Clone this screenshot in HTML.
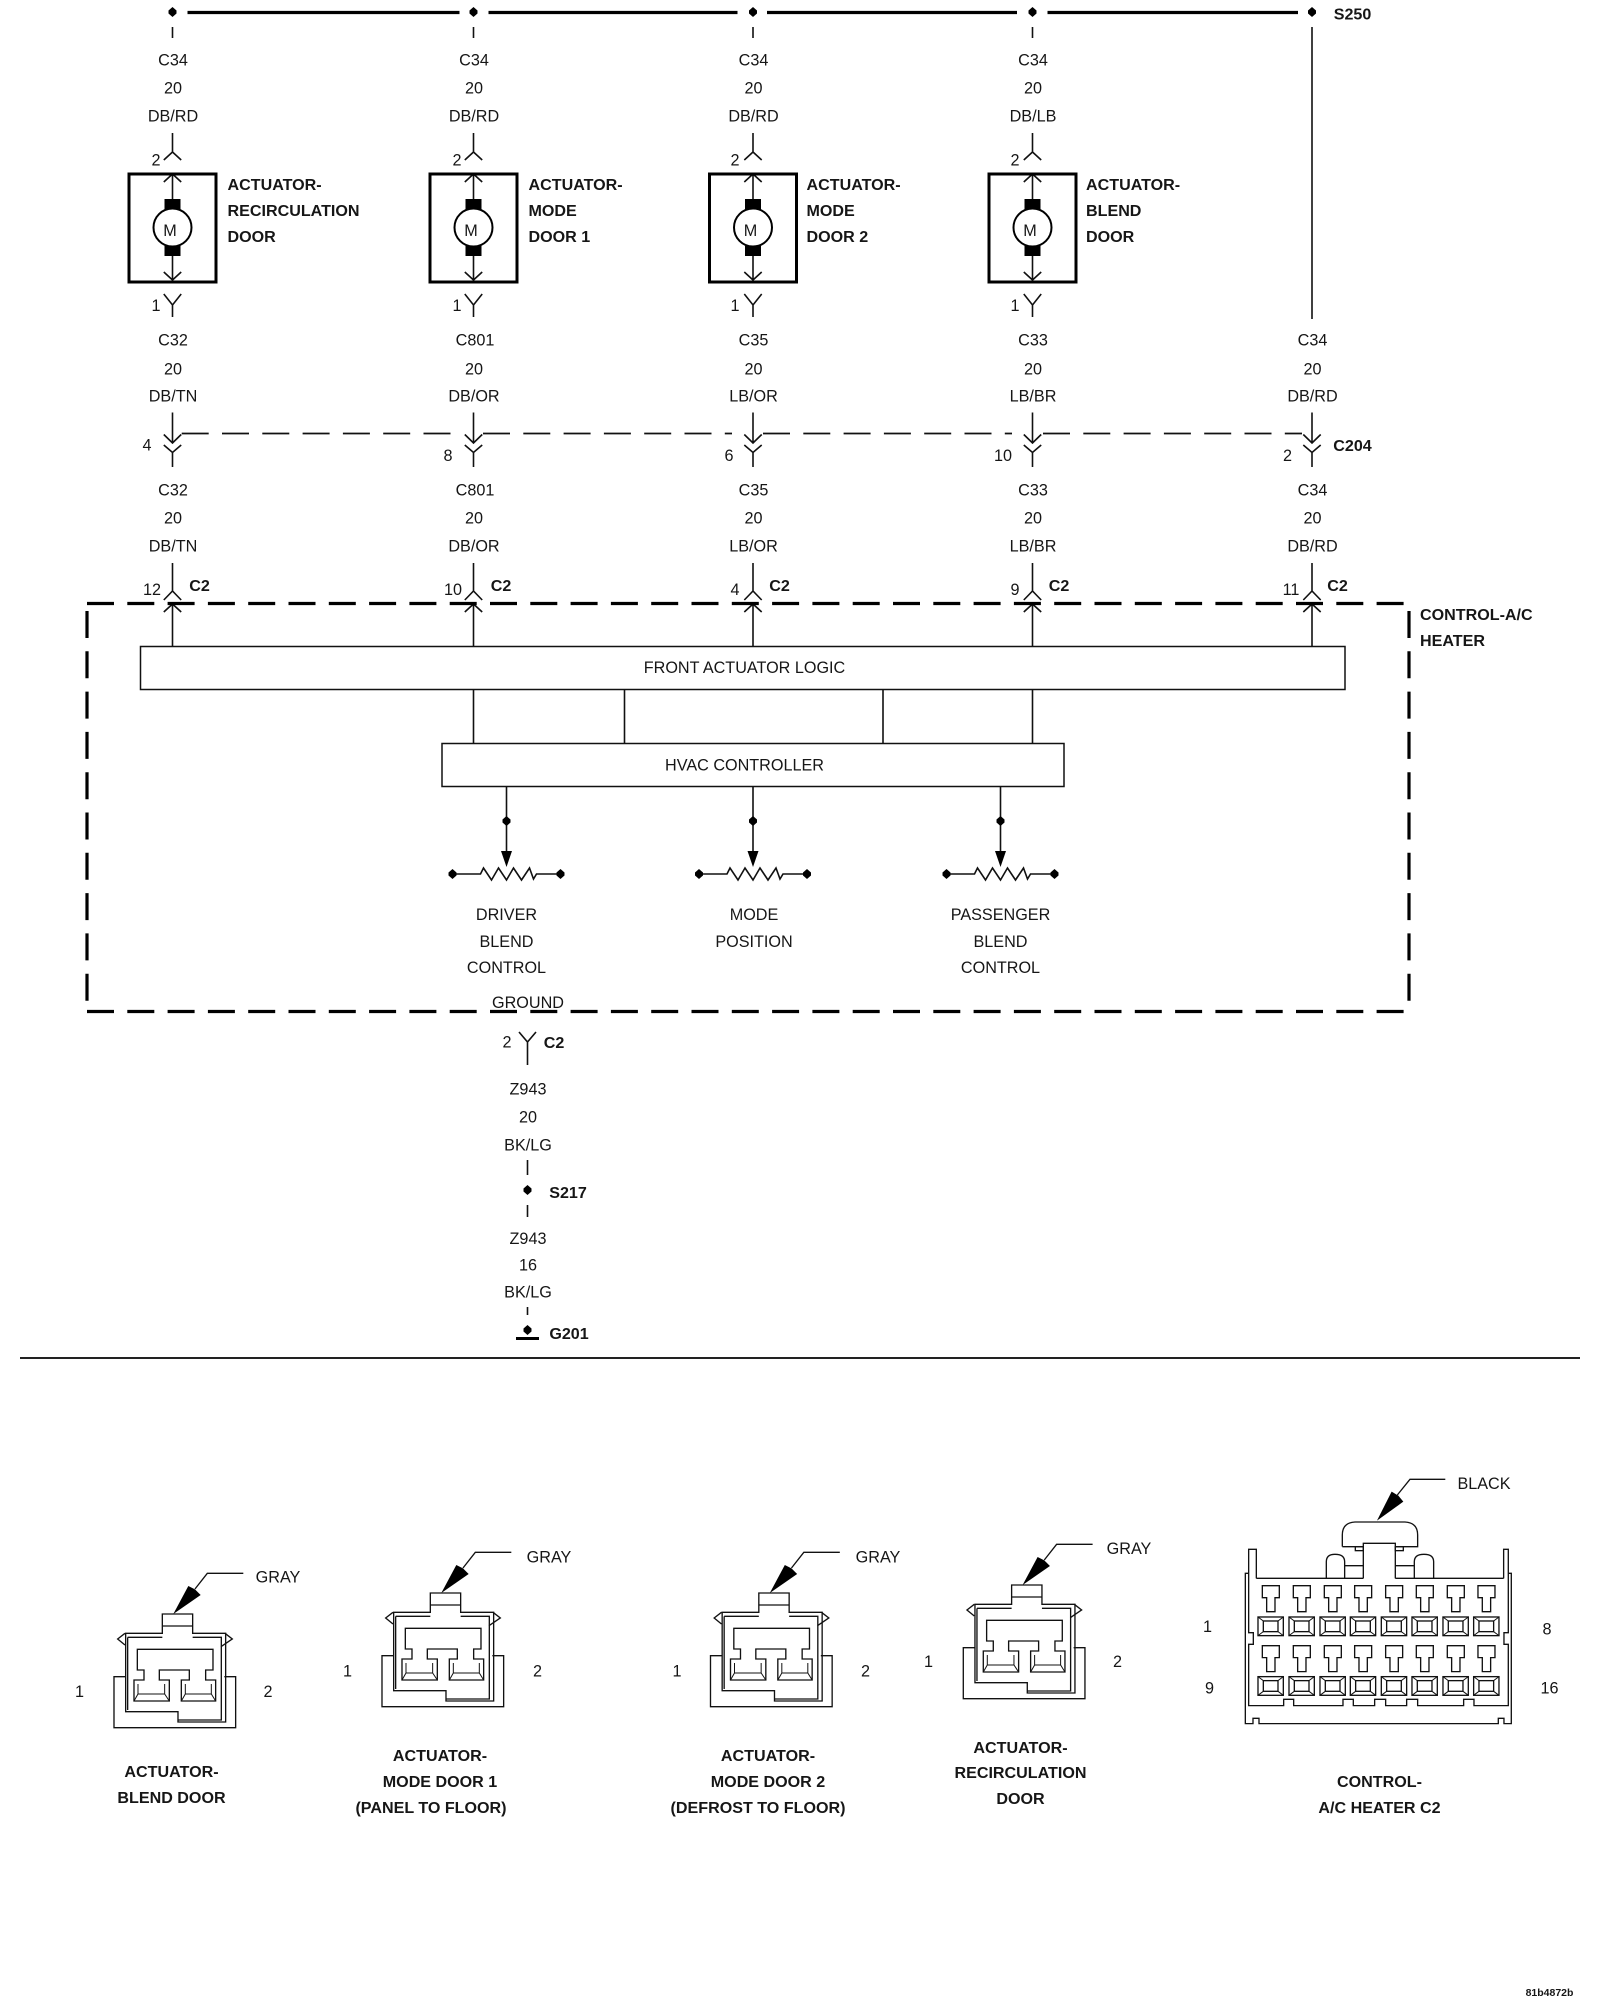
<!DOCTYPE html>
<html><head><meta charset="utf-8"><title>Wiring diagram</title>
<style>
html,body{margin:0;padding:0;background:#fff}
svg{display:block}
text{font-family:"Liberation Sans",sans-serif;font-size:16.2px;fill:#161616;text-anchor:middle}
.b{font-weight:bold;font-size:16.1px}
.l{text-anchor:start}
.w{fill:none;stroke:#111;stroke-width:1.6}
</style></head><body>
<svg width="1600" height="2000" viewBox="0 0 1600 2000" xmlns="http://www.w3.org/2000/svg">
<defs>
<polygon id="d" points="0,-5 4,-1.5 4,1.5 0,5 -4,1.5 -4,-1.5" fill="#000"/>
<g id="actu">
 <path class="w" d="M0,133V152M-8.7,160L0,152L8.7,160M-8.7,182L0,174L8.7,182M0,174V200M0,256V280M-8.7,272L0,280L8.7,272M-8.7,294L0,305L8.7,294M0,305V317"/>
 <rect x="-43.5" y="174" width="87" height="108" fill="none" stroke="#000" stroke-width="3"/>
 <rect x="-8" y="199" width="16" height="11" fill="#000"/>
 <rect x="-8" y="246" width="16" height="10" fill="#000"/>
 <circle cx="0" cy="227.5" r="19" fill="#fff" stroke="#000" stroke-width="2"/>
</g>
<path id="mid" class="w" d="M0,412.5V443M-8.7,434.5L0,443L8.7,434.5M-8.7,445L0,452.5L8.7,445M0,452.5V467"/>
<path id="c2" class="w" d="M0,563V591M-8.7,600L0,591L8.7,600M-8.7,612L0,604L8.7,612M0,604V646"/>
<g id="pot">
 <path class="w" d="M0,786V855"/>
 <use href="#d" y="821"/>
 <polygon points="-5.5,851 5.5,851 0,867" fill="#000"/>
 <path class="w" d="M-54,874H-26L-23,868L-15,880L-8,868L0,880L7,868L15,880L23,868L27,879L30,874H54"/>
 <use href="#d" x="-54" y="874"/>
 <use href="#d" x="54" y="874"/>
</g>
<g id="conn" fill="none" stroke="#111" stroke-width="4" transform="scale(0.3333)">
 <path d="M196,440H162V593H527V440H493"/>
 <path d="M197,310H307V252H398V310H497V576H354V545H197Z"/>
 <path d="M307,288H398M203,322H307M398,322H484V570H354M203,322V540"/>
 <path d="M195,310L173,327L195,345M495,310L517,327L483,350"/>
 <path d="M232,358H459V420H437V450H467V513H364V450H388V420H298V450H328V513H222V450H252V420H232Z"/>
 <path d="M234,462V492H314V462M222,513L234,492M328,513L314,492M376,462V492H454V462M364,513L376,492M467,513L454,492" stroke-width="3"/>
</g>
<g id="arrow">
 <polygon points="340,252 385,168 405,178 422,195" fill="#000" transform="scale(0.3333)"/>
 <path d="M405,177L442,130H550" fill="none" stroke="#111" stroke-width="4" transform="scale(0.3333)"/>
</g>
<path id="term" fill="none" stroke="#111" stroke-width="4" d="M-25,0H26V36H13V78H-12V36H-25Z"/>
<g id="cav" fill="none" stroke="#111">
 <rect x="-38" y="0" width="76" height="56" stroke-width="4"/>
 <rect x="-22" y="12" width="44" height="32" stroke-width="4"/>
 <path d="M-38,0L-22,12M38,0L22,12M-38,56L-22,44M38,56L22,44" stroke-width="3"/>
</g>
</defs>

<!-- top bus -->
<path d="M187.5,12.5H459.5M488.5,12.5H737.5M767,12.5H1017M1047.5,12.5H1298" stroke="#000" stroke-width="3.2" fill="none"/>
<use href="#d" x="172.5" y="12"/><use href="#d" x="473.5" y="12"/><use href="#d" x="753" y="12"/><use href="#d" x="1032.5" y="12"/><use href="#d" x="1312" y="12"/>
<path class="w" d="M172.5,27V38M473.5,27V38M753,27V38M1032.5,27V38M1312,27V319"/>
<text class="b" x="1352.5" y="19.5">S250</text>

<use href="#actu" x="172.5"/><use href="#actu" x="473.5"/><use href="#actu" x="753"/><use href="#actu" x="1032.5"/>
<text x="170" y="236">M</text><text x="471" y="236">M</text><text x="750.5" y="236">M</text><text x="1030" y="236">M</text>

<!-- wire labels row 1 -->
<text x="173" y="65.5">C34</text><text x="173" y="93.5">20</text><text x="173" y="121.5">DB/RD</text>
<text x="474" y="65.5">C34</text><text x="474" y="93.5">20</text><text x="474" y="121.5">DB/RD</text>
<text x="753.5" y="65.5">C34</text><text x="753.5" y="93.5">20</text><text x="753.5" y="121.5">DB/RD</text>
<text x="1033" y="65.5">C34</text><text x="1033" y="93.5">20</text><text x="1033" y="121.5">DB/LB</text>
<text x="156" y="165.5">2</text><text x="457" y="165.5">2</text><text x="735" y="165.5">2</text><text x="1015" y="165.5">2</text>
<text x="156" y="311">1</text><text x="457" y="311">1</text><text x="735" y="311">1</text><text x="1015" y="311">1</text>

<!-- actuator names -->
<text class="b l" x="227.5" y="190">ACTUATOR-</text><text class="b l" x="227.5" y="216">RECIRCULATION</text><text class="b l" x="227.5" y="242">DOOR</text>
<text class="b l" x="528.5" y="190">ACTUATOR-</text><text class="b l" x="528.5" y="216">MODE</text><text class="b l" x="528.5" y="242">DOOR 1</text>
<text class="b l" x="806.5" y="190">ACTUATOR-</text><text class="b l" x="806.5" y="216">MODE</text><text class="b l" x="806.5" y="242">DOOR 2</text>
<text class="b l" x="1086" y="190">ACTUATOR-</text><text class="b l" x="1086" y="216">BLEND</text><text class="b l" x="1086" y="242">DOOR</text>

<!-- row 2 -->
<text x="173" y="345.5">C32</text><text x="173" y="374.5">20</text><text x="173" y="401.5">DB/TN</text>
<text x="475" y="345.5">C801</text><text x="474" y="374.5">20</text><text x="474" y="401.5">DB/OR</text>
<text x="753.5" y="345.5">C35</text><text x="753.5" y="374.5">20</text><text x="753.5" y="401.5">LB/OR</text>
<text x="1033" y="345.5">C33</text><text x="1033" y="374.5">20</text><text x="1033" y="401.5">LB/BR</text>
<text x="1312.5" y="345.5">C34</text><text x="1312.5" y="374.5">20</text><text x="1312.5" y="401.5">DB/RD</text>

<use href="#mid" x="172.5"/><use href="#mid" x="473.5"/><use href="#mid" x="753"/><use href="#mid" x="1032.5"/><use href="#mid" x="1312"/>
<path d="M181.7,433.5H452M483,433.5H732M763,433.5H1012M1043,433.5H1302" fill="none" stroke="#111" stroke-width="1.7" stroke-dasharray="27 13.3"/>
<text x="147" y="450.5">4</text><text x="448" y="461">8</text><text x="729" y="461">6</text><text x="1003" y="461">10</text><text x="1287.5" y="461">2</text>
<text class="b" x="1352.5" y="451">C204</text>

<!-- row 3 -->
<text x="173" y="495.5">C32</text><text x="173" y="523.5">20</text><text x="173" y="551.5">DB/TN</text>
<text x="475" y="495.5">C801</text><text x="474" y="523.5">20</text><text x="474" y="551.5">DB/OR</text>
<text x="753.5" y="495.5">C35</text><text x="753.5" y="523.5">20</text><text x="753.5" y="551.5">LB/OR</text>
<text x="1033" y="495.5">C33</text><text x="1033" y="523.5">20</text><text x="1033" y="551.5">LB/BR</text>
<text x="1312.5" y="495.5">C34</text><text x="1312.5" y="523.5">20</text><text x="1312.5" y="551.5">DB/RD</text>

<use href="#c2" x="172.5"/><use href="#c2" x="473.5"/><use href="#c2" x="753"/><use href="#c2" x="1032.5"/><use href="#c2" x="1312"/>
<text x="152" y="595">12</text><text x="453" y="595">10</text><text x="735" y="595">4</text><text x="1015" y="595">9</text><text x="1291" y="595">11</text>
<text class="b" x="199.5" y="591">C2</text><text class="b" x="501" y="591">C2</text><text class="b" x="779.5" y="591">C2</text><text class="b" x="1059" y="591">C2</text><text class="b" x="1337.5" y="591">C2</text>

<!-- control dashed box -->
<path d="M87,603.5H1410M1409,611V1011M87,1011.5H1410M87,611V1011" fill="none" stroke="#000" stroke-width="3.2" stroke-dasharray="27 13.3"/>
<text class="b l" x="1420" y="620">CONTROL-A/C</text><text class="b l" x="1420" y="646">HEATER</text>

<rect x="140.5" y="646.5" width="1204.5" height="43" fill="#fff" stroke="#111" stroke-width="1.5"/>
<text x="744.5" y="673">FRONT ACTUATOR LOGIC</text>
<path class="w" d="M473.5,689.5V743M624.5,689.5V743M883,689.5V743M1032.5,689.5V743"/>
<rect x="442" y="743.5" width="622" height="43" fill="#fff" stroke="#111" stroke-width="1.5"/>
<text x="744.5" y="770.5">HVAC CONTROLLER</text>

<use href="#pot" x="506.5"/><use href="#pot" x="753"/><use href="#pot" x="1000.5"/>
<text x="506.5" y="920">DRIVER</text><text x="506.5" y="947">BLEND</text><text x="506.5" y="973">CONTROL</text>
<text x="754" y="920">MODE</text><text x="754" y="947">POSITION</text>
<text x="1000.5" y="920">PASSENGER</text><text x="1000.5" y="947">BLEND</text><text x="1000.5" y="973">CONTROL</text>

<!-- ground -->
<text x="528" y="1008">GROUND</text>
<path class="w" d="M519,1032L527.5,1042L536,1032M527.5,1042V1065M527.5,1160V1175M527.5,1205V1217M527.5,1307V1315"/>
<text x="507" y="1047.5">2</text><text class="b" x="554" y="1048">C2</text>
<text x="528" y="1094.5">Z943</text><text x="528" y="1122.5">20</text><text x="528" y="1150.5">BK/LG</text>
<use href="#d" x="527.5" y="1190"/><text class="b" x="568" y="1198">S217</text>
<text x="528" y="1244">Z943</text><text x="528" y="1270.5">16</text><text x="528" y="1297.5">BK/LG</text>
<use href="#d" x="527.5" y="1330"/>
<path d="M516,1338.5H539" stroke="#000" stroke-width="3"/>
<text class="b" x="569" y="1339">G201</text>
<path d="M20,1358H1580" stroke="#222" stroke-width="2"/>

<!-- 2-pin connectors -->
<g transform="translate(60,1530)"><use href="#conn"/><use href="#arrow"/></g>
<g transform="translate(328,1509)"><use href="#conn"/><use href="#arrow"/></g>
<g transform="translate(656.5,1509)"><use href="#conn"/><use href="#arrow"/></g>
<g transform="translate(909.3,1501)"><use href="#conn"/><use href="#arrow"/></g>

<text x="278" y="1582.5">GRAY</text>
<text x="79.5" y="1697">1</text><text x="268" y="1697">2</text>
<text class="b" x="171.5" y="1777">ACTUATOR-</text><text class="b" x="171.5" y="1803">BLEND DOOR</text>

<text x="549" y="1562.5">GRAY</text>
<text x="347.5" y="1676.5">1</text><text x="537.5" y="1676.5">2</text>
<text class="b" x="440" y="1761">ACTUATOR-</text><text class="b" x="440" y="1787">MODE DOOR 1</text><text class="b" x="431" y="1813">(PANEL TO FLOOR)</text>

<text x="878" y="1562.5">GRAY</text>
<text x="677" y="1676.5">1</text><text x="865.5" y="1676.5">2</text>
<text class="b" x="768" y="1761">ACTUATOR-</text><text class="b" x="768" y="1787">MODE DOOR 2</text><text class="b" x="758" y="1813">(DEFROST TO FLOOR)</text>

<text x="1129" y="1554">GRAY</text>
<text x="928.5" y="1667">1</text><text x="1117.5" y="1667">2</text>
<text class="b" x="1020.5" y="1753">ACTUATOR-</text><text class="b" x="1020.5" y="1778">RECIRCULATION</text><text class="b" x="1020.5" y="1804">DOOR</text>

<!-- 16-pin connector -->
<g transform="translate(1180,1450) scale(0.3333)" fill="none" stroke="#111" stroke-width="4">
 <polygon points="591,212 635,125 655,137 670,155" fill="#000" stroke="none"/>
 <path d="M652,135L690,88H796"/>
 <path d="M487,290V255Q487,218 525,216H675Q713,218 713,255V290H646M487,290H550"/>
 <path d="M550,385V280H646V385"/>
 <rect x="526" y="290" width="24" height="12"/><rect x="646" y="290" width="24" height="12"/>
 <path d="M439,385V335Q439,313 465,313Q494,313 494,335V385M703,385V335Q703,313 732,313Q761,313 761,335V385"/>
 <path d="M494,347H550M646,347H703"/>
 <path d="M229,385H550M646,385H971"/>
 <path d="M229,385V298H206V548H220V583H206V767H311V748H341V767H489V748H520V767H584V748H617V767H680V748H713V767H851V748H882V767H985V583H972V548H985V298H971V385"/>
 <path d="M205,370H196V821H219V805H237V821H955V805H972V821H994V370H985"/>
 <use href="#term" x="272" y="407"/><use href="#term" x="365" y="407"/><use href="#term" x="458" y="407"/><use href="#term" x="549" y="407"/><use href="#term" x="642" y="407"/><use href="#term" x="734" y="407"/><use href="#term" x="827" y="407"/><use href="#term" x="919" y="407"/>
 <use href="#term" x="272" y="587"/><use href="#term" x="365" y="587"/><use href="#term" x="458" y="587"/><use href="#term" x="549" y="587"/><use href="#term" x="642" y="587"/><use href="#term" x="734" y="587"/><use href="#term" x="827" y="587"/><use href="#term" x="919" y="587"/>
 <use href="#cav" x="272" y="501"/><use href="#cav" x="365" y="501"/><use href="#cav" x="458" y="501"/><use href="#cav" x="549" y="501"/><use href="#cav" x="642" y="501"/><use href="#cav" x="734" y="501"/><use href="#cav" x="827" y="501"/><use href="#cav" x="919" y="501"/>
 <use href="#cav" x="272" y="680"/><use href="#cav" x="365" y="680"/><use href="#cav" x="458" y="680"/><use href="#cav" x="549" y="680"/><use href="#cav" x="642" y="680"/><use href="#cav" x="734" y="680"/><use href="#cav" x="827" y="680"/><use href="#cav" x="919" y="680"/>
</g>
<text x="1484" y="1489">BLACK</text>
<text x="1207.5" y="1632">1</text><text x="1547" y="1634.5">8</text><text x="1209.5" y="1693.5">9</text><text x="1549.5" y="1693.5">16</text>
<text class="b" x="1379.5" y="1787">CONTROL-</text><text class="b" x="1379.5" y="1813">A/C HEATER C2</text>

<text class="b" x="1549.5" y="1996" style="font-size:10.5px">81b4872b</text>
</svg>
</body></html>
